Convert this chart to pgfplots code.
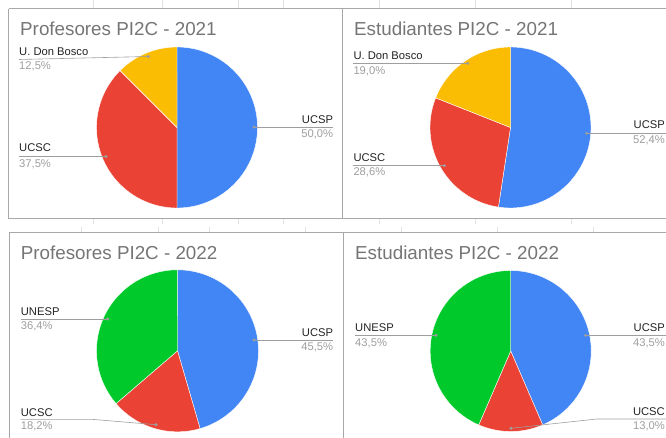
\documentclass[border=0pt]{standalone}
\usepackage{fontspec}
\setmainfont{Liberation Sans}
\usepackage{pgfplots}
\pgfplotsset{compat=1.18}
\definecolor{gblue}{HTML}{4285F4}
\definecolor{gred}{HTML}{EA4335}
\definecolor{gyellow}{HTML}{FBBC04}
\definecolor{ggreen}{HTML}{00C92C}
\definecolor{titlegray}{HTML}{757575}
\definecolor{pctgray}{HTML}{9E9E9E}
\definecolor{leadgray}{HTML}{9E9E9E}
\definecolor{bordergray}{HTML}{A8A8A8}
\definecolor{gridgray}{HTML}{E2E2E2}
\definecolor{labelblack}{HTML}{222222}
\tikzset{
  ttl/.style={anchor=base west, inner sep=0pt, text=titlegray, font=\fontsize{18.8}{22}\selectfont},
  nm/.style={inner sep=0pt, text=labelblack, font=\fontsize{11.2}{13}\selectfont},
  pc/.style={inner sep=0pt, text=pctgray, font=\fontsize{11.2}{13}\selectfont},
}
% slice: centre x, centre y, radius, start %, end %, colour
\newcommand{\slice}[6]{%
  \addplot[draw=white, line width=0.4pt, fill=#6, domain=#4:#5, samples=90, variable=\t]
    ({#1+#3*sin(3.6*\t)}, {#2-#3*cos(3.6*\t)}) -- (#1,#2) -- cycle;
}
\begin{document}
\begin{tikzpicture}
\begin{axis}[name=main, at={(0,0)}, anchor=south west,
  width=666pt, height=438pt, scale only axis,
  xmin=0, xmax=666, ymin=0, ymax=438, y dir=reverse,
  hide axis, clip=true]

% faint spreadsheet grid
\addplot[draw=gridgray, line width=0.6pt] coordinates {(93.5,0) (93.5,8)};
\addplot[draw=gridgray, line width=0.6pt] coordinates {(162.7,0) (162.7,8)};
\addplot[draw=gridgray, line width=0.6pt] coordinates {(238,0) (238,8)};
\addplot[draw=gridgray, line width=0.6pt] coordinates {(283.4,0) (283.4,8)};
\addplot[draw=gridgray, line width=0.6pt] coordinates {(379.4,0) (379.4,8)};
\addplot[draw=gridgray, line width=0.6pt] coordinates {(475.4,0) (475.4,8)};
\addplot[draw=gridgray, line width=0.6pt] coordinates {(571.4,0) (571.4,8)};
\addplot[draw=gridgray, line width=0.6pt] coordinates {(93.5,219) (93.5,224)};
\addplot[draw=gridgray, line width=0.6pt] coordinates {(162.7,219) (162.7,224)};
\addplot[draw=gridgray, line width=0.6pt] coordinates {(238,219) (238,224)};
\addplot[draw=gridgray, line width=0.6pt] coordinates {(283.4,219) (283.4,224)};
\addplot[draw=gridgray, line width=0.6pt] coordinates {(379.4,219) (379.4,224)};
\addplot[draw=gridgray, line width=0.6pt] coordinates {(475.4,219) (475.4,224)};
\addplot[draw=gridgray, line width=0.6pt] coordinates {(571.4,219) (571.4,224)};
\addplot[draw=gridgray, line width=0.6pt] coordinates {(81.6,227) (81.6,232)};
\addplot[draw=gridgray, line width=0.6pt] coordinates {(158.4,227) (158.4,232)};
\addplot[draw=gridgray, line width=0.6pt] coordinates {(209.4,227) (209.4,232)};
\addplot[draw=gridgray, line width=0.6pt] coordinates {(305,227) (305,232)};
\addplot[draw=gridgray, line width=0.6pt] coordinates {(401,227) (401,232)};
\addplot[draw=gridgray, line width=0.6pt] coordinates {(497,227) (497,232)};
\addplot[draw=gridgray, line width=0.6pt] coordinates {(593.5,227) (593.5,232)};

% panel borders
\addplot[draw=bordergray, line width=1pt] coordinates {(8.5,9) (342.3,9) (342.3,218.5) (8.5,218.5) (8.5,9)};
\addplot[draw=bordergray, line width=1pt] coordinates {(342.3,9) (680,9) (680,218.5) (342.3,218.5)};
\addplot[draw=bordergray, line width=1pt] coordinates {(9.8,450) (9.8,232.3) (343.3,232.3) (343.3,450)};
\addplot[draw=bordergray, line width=1pt] coordinates {(343.3,450) (343.3,232.3) (680,232.3)};

% ---- Profesores 2021: UCSP 50.0, UCSC 37.5, U. Don Bosco 12.5
\slice{177}{127.5}{80.5}{0}{50.0}{gblue}
\slice{177}{127.5}{80.5}{50.0}{87.5}{gred}
\slice{177}{127.5}{80.5}{87.5}{100}{gyellow}
% ---- Estudiantes 2021: UCSP 52.4, UCSC 28.6, U. Don Bosco 19.0
\slice{510.5}{127.5}{80.5}{0}{52.4}{gblue}
\slice{510.5}{127.5}{80.5}{52.4}{81.0}{gred}
\slice{510.5}{127.5}{80.5}{81.0}{100}{gyellow}
% ---- Profesores 2022: UCSP 45.5, UCSC 18.2, UNESP 36.4
\slice{177.5}{350.8}{81}{0}{45.5}{gblue}
\slice{177.5}{350.8}{81}{45.5}{63.7}{gred}
\slice{177.5}{350.8}{81}{63.7}{100}{ggreen}
% ---- Estudiantes 2022: UCSP 43.5, UCSC 13.0, UNESP 43.5
\slice{510.7}{351}{80.5}{0}{43.5}{gblue}
\slice{510.7}{351}{80.5}{43.5}{56.5}{gred}
\slice{510.7}{351}{80.5}{56.5}{100}{ggreen}

% leader lines
\addplot[draw=leadgray, line width=0.6pt] coordinates {(19,59.5) (148.3,56.5)};
\addplot[draw=leadgray, line width=0.6pt] coordinates {(254,127) (333.3,127)};
\addplot[draw=leadgray, line width=0.6pt] coordinates {(19,156.5) (106,156.5)};
\addplot[draw=leadgray, line width=0.6pt] coordinates {(353.3,63.3) (467.7,63.3)};
\addplot[draw=leadgray, line width=0.6pt] coordinates {(586.7,133.3) (670,133.3)};
\addplot[draw=leadgray, line width=0.6pt] coordinates {(353.3,165.7) (444.3,165.7)};
\addplot[draw=leadgray, line width=0.6pt] coordinates {(20.7,319) (107.7,319)};
\addplot[draw=leadgray, line width=0.6pt] coordinates {(254,340) (333.3,340)};
\addplot[draw=leadgray, line width=0.6pt] coordinates {(20.7,419.3) (91.7,419.3) (156,424.7)};
\addplot[draw=leadgray, line width=0.6pt] coordinates {(355,335.3) (436,335.3)};
\addplot[draw=leadgray, line width=0.6pt] coordinates {(585.7,335.3) (670,335.3)};
\addplot[draw=leadgray, line width=0.6pt] coordinates {(511,428.3) (596.7,419) (670,419)};
% leader dots
\addplot[only marks, mark=*, mark size=1.3pt, mark options={fill=leadgray, draw=leadgray}]
  coordinates {(148.3,56.5) (254,127) (106,156.5) (467.7,63.3) (586.7,133.3) (444.3,165.7)
               (107.7,319) (254,340) (156,424.7) (436,335.3) (585.7,335.3) (511,428.3)};

% titles
\node[ttl] at (axis cs:20,35.7) {Profesores PI2C - 2021};
\node[ttl] at (axis cs:354,35.2) {Estudiantes PI2C - 2021};
\node[ttl] at (axis cs:20.7,259) {Profesores PI2C - 2022};
\node[ttl] at (axis cs:355,259) {Estudiantes PI2C - 2022};

% labels panel 1
\node[nm, anchor=base west] at (axis cs:19,56) {U. Don Bosco};
\node[pc, anchor=base west] at (axis cs:19,69.5) {12,5\%};
\node[nm, anchor=base east] at (axis cs:333.3,123.3) {UCSP};
\node[pc, anchor=base east] at (axis cs:333.3,137.7) {50,0\%};
\node[nm, anchor=base west] at (axis cs:19,152) {UCSC};
\node[pc, anchor=base west] at (axis cs:19,167.3) {37,5\%};
% labels panel 2
\node[nm, anchor=base west] at (axis cs:353.3,60) {U. Don Bosco};
\node[pc, anchor=base west] at (axis cs:353.3,75) {19,0\%};
\node[nm, anchor=base east] at (axis cs:665,128.5) {UCSP};
\node[pc, anchor=base east] at (axis cs:665,143.3) {52,4\%};
\node[nm, anchor=base west] at (axis cs:353.3,162) {UCSC};
\node[pc, anchor=base west] at (axis cs:353.3,176) {28,6\%};
% labels panel 3
\node[nm, anchor=base west] at (axis cs:20.7,315) {UNESP};
\node[pc, anchor=base west] at (axis cs:20.7,329.3) {36,4\%};
\node[nm, anchor=base east] at (axis cs:333.3,336) {UCSP};
\node[pc, anchor=base east] at (axis cs:333.3,350.7) {45,5\%};
\node[nm, anchor=base west] at (axis cs:20.7,416) {UCSC};
\node[pc, anchor=base west] at (axis cs:20.7,429.3) {18,2\%};
% labels panel 4
\node[nm, anchor=base west] at (axis cs:355,331.5) {UNESP};
\node[pc, anchor=base west] at (axis cs:355,346) {43,5\%};
\node[nm, anchor=base east] at (axis cs:665,331.5) {UCSP};
\node[pc, anchor=base east] at (axis cs:665,346) {43,5\%};
\node[nm, anchor=base east] at (axis cs:665,415.5) {UCSC};
\node[pc, anchor=base east] at (axis cs:665,429.3) {13,0\%};
\end{axis}
\pgfresetboundingbox
\path[use as bounding box] (main.south west) rectangle (main.north east);
\end{tikzpicture}
\end{document}
